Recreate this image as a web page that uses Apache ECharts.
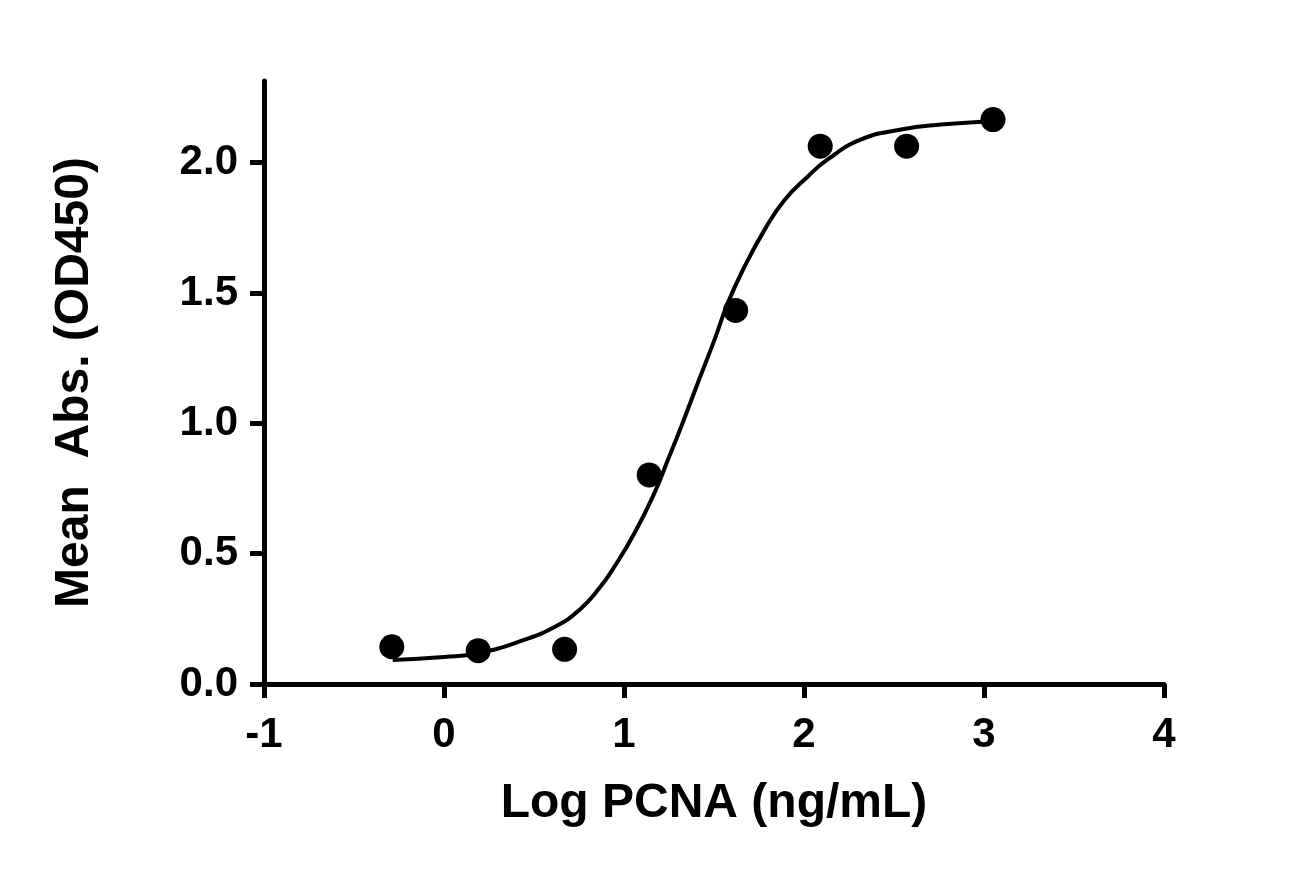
<!DOCTYPE html>
<html>
<head>
<meta charset="utf-8">
<title>Log PCNA (ng/mL)</title>
<script src="https://cdn.jsdelivr.net/npm/echarts@6/dist/echarts.min.js"></script>
<style>
  html, body { margin: 0; padding: 0; background: #fff; }
  #chart { width: 1302px; height: 870px; }
</style>
</head>
<body>
<div id="chart"></div>
<script>
// measured points: log concentration vs mean absorbance
var logConc = [-0.29, 0.19, 0.67, 1.14, 1.62, 2.09, 2.57, 3.05];
var meanAbs = [0.143, 0.128, 0.133, 0.802, 1.433, 2.063, 2.063, 2.165];

// fitted curve
var fitX = [-0.285, 0.0, 0.187, 0.428, 0.632, 0.761, 0.86, 0.946, 1.057, 1.168, 1.243, 1.317,
            1.409, 1.502, 1.576, 1.669, 1.78, 1.891, 2.02, 2.13, 2.315, 2.54, 2.761, 3.039];
var fitY = [0.092, 0.104, 0.118, 0.165, 0.225, 0.29, 0.365, 0.449, 0.577, 0.731, 0.858, 0.986,
            1.153, 1.319, 1.46, 1.6, 1.741, 1.856, 1.946, 2.011, 2.088, 2.127, 2.146, 2.159];

var xTicks = [-1, 0, 1, 2, 3, 4];
var yTicks = [0, 0.5, 1.0, 1.5, 2.0];

var pts = [];
for (var i = 0; i < logConc.length; i++) {
  pts.push([logConc[i], meanAbs[i]]);
}
var curve = [];
for (var j = 0; j < fitX.length; j++) {
  curve.push([fitX[j], fitY[j]]);
}

var font = 'Liberation Sans, Arial, sans-serif';

var option = {
  backgroundColor: '#fff',
  animation: false,
  grid: {
    left: 264,
    right: 138,
    top: 81,
    bottom: 186
  },
  xAxis: {
    type: 'value',
    min: -1,
    max: 4,
    interval: 1,
    name: 'Log PCNA (ng/mL)',
    nameLocation: 'middle',
    nameGap: 96,
    nameTextStyle: { fontFamily: font, fontWeight: 'bold', fontSize: 48, color: '#000' },
    axisLine: { onZero: false, lineStyle: { color: '#000', width: 5 } },
    axisTick: { length: 14, lineStyle: { color: '#000', width: 5 } },
    axisLabel: {
      margin: 30,
      fontFamily: font, fontWeight: 'bold', fontSize: 42, color: '#000',
      customValues: xTicks
    },
    splitLine: { show: false }
  },
  yAxis: {
    type: 'value',
    min: 0,
    max: 2.313,
    interval: 0.5,
    name: 'Mean  Abs. (OD450)',
    nameLocation: 'middle',
    nameGap: 165,
    nameTextStyle: { fontFamily: font, fontWeight: 'bold', fontSize: 48, color: '#000' },
    axisLine: { onZero: false, lineStyle: { color: '#000', width: 5 } },
    axisTick: { length: 14, lineStyle: { color: '#000', width: 5 }, customValues: yTicks },
    axisLabel: {
      margin: 26,
      fontFamily: font, fontWeight: 'bold', fontSize: 42, color: '#000',
      customValues: yTicks,
      formatter: function (v) { return v.toFixed(1); }
    },
    splitLine: { show: false }
  },
  series: [
    {
      type: 'line',
      data: curve,
      smooth: 0.5,
      showSymbol: false,
      lineStyle: { color: '#000', width: 4 },
      z: 2
    },
    {
      type: 'scatter',
      data: pts,
      symbol: 'circle',
      symbolSize: 25,
      itemStyle: { color: '#000', opacity: 1 },
      z: 3
    }
  ]
};

var myChart = echarts.init(document.getElementById('chart'));
myChart.setOption(option);
</script>
</body>
</html>
